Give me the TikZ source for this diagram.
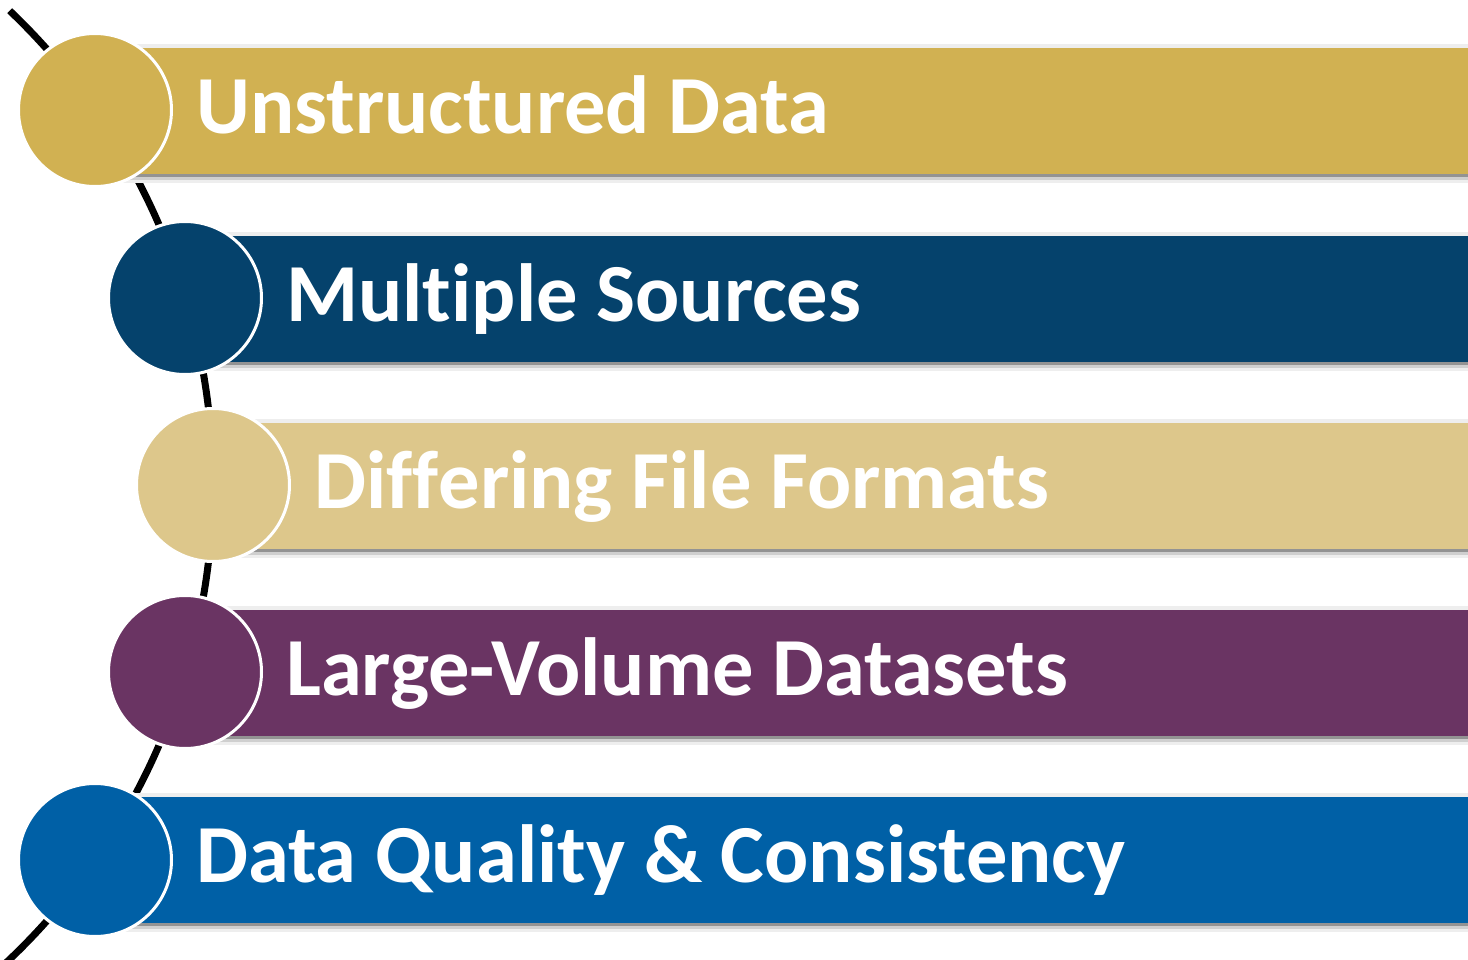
\documentclass[tikz,border=0pt]{standalone}
\usepackage{fontspec}
\setmainfont{Carlito}[Ligatures={NoCommon,NoContextual}]
\definecolor{cgold}{HTML}{D1B152}
\definecolor{cnavy}{HTML}{05426C}
\definecolor{clgold}{HTML}{DDC78B}
\definecolor{cpurple}{HTML}{6A3463}
\definecolor{cblue}{HTML}{0060A6}
\definecolor{shdark}{HTML}{939393}
\definecolor{shmid}{HTML}{CFCFCF}
\definecolor{shlight}{HTML}{EEEEEE}
\begin{document}
\begin{tikzpicture}[x=1pt,y=-1pt,
  dot/.style={circle, minimum size=153pt, inner sep=0pt, draw=white, line width=3pt},
  label/.style={anchor=base west, inner sep=0pt, text=white, font=\fontsize{82.5}{90}\selectfont\bfseries},
  spine/.style={line width=7pt, black}]
\useasboundingbox (0,0) rectangle (1468,960);
\clip (0,0) rectangle (1468,960);
% spine arc
\coordinate (arcc) at (-442,485);
\coordinate (arctop) at ([shift={(-46.4:655)}]arcc);
\draw[spine] (arctop) arc[start angle=-46.4, end angle=47, radius=655];
% bars
\foreach \cx/\yt/\col in {95/48/cgold, 185/236/cnavy, 213/423/clgold, 185/610/cpurple, 95/797/cblue}{
  \fill[shlight] (\cx,\yt-4) rectangle (1468,\yt);
  \fill[shlight] (\cx,\yt+126+6) rectangle (1468,\yt+126+9);
  \fill[shmid] (\cx,\yt+126+3) rectangle (1468,\yt+126+6);
  \fill[shdark] (\cx,\yt+126) rectangle (1468,\yt+126+3);
  \fill[\col] (\cx,\yt) rectangle (1468,\yt+126);
}
% circles
\node[dot, fill=cgold]   (c1) at (95,110) {};
\node[dot, fill=cnavy]   (c2) at (185,298) {};
\node[dot, fill=clgold]  (c3) at (213,485) {};
\node[dot, fill=cpurple] (c4) at (185,672) {};
\node[dot, fill=cblue]   (c5) at (95,860) {};
% labels
\node[label] (t1) at (196,134) {Unstructured Data};
\node[label] (t2) at (286,321.5) {Mult\kern0pt iple Sources};
\node[label] (t3) at (314,508.5) {Dif\kern0pt f\kern0pt ering File Formats};
\node[label] (t4) at (286,695.5) {Large-Volume Datasets};
\node[label] (t5) at (196,882.5) {Data Quality \& Consistency};
\end{tikzpicture}
\end{document}
